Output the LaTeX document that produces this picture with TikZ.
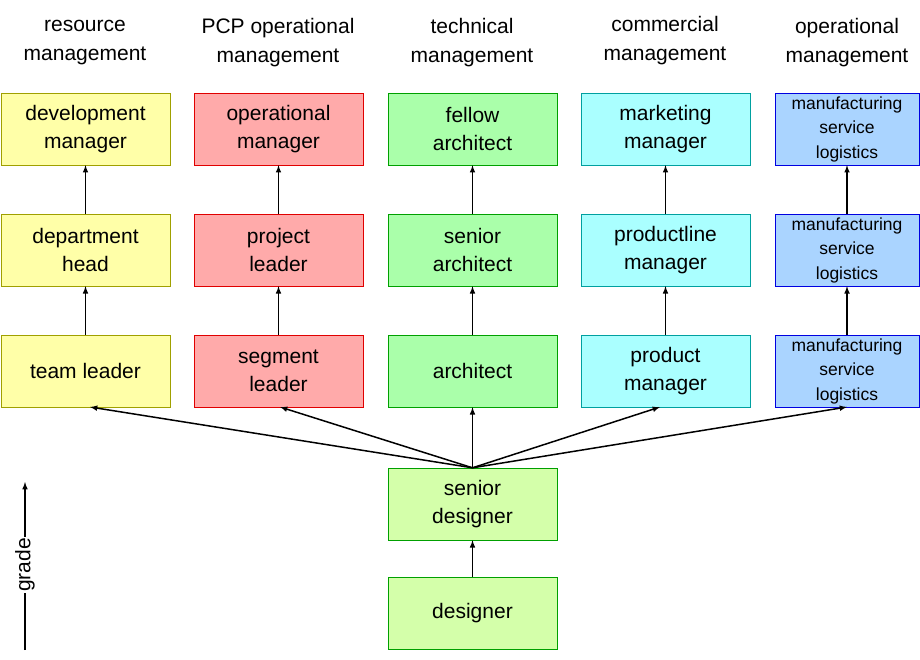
\documentclass[tikz,border=0pt]{standalone}
\usepackage{fontspec}
\setmainfont{Liberation Sans}
\begin{document}
\begin{tikzpicture}[x=1pt,y=-1pt,
 box/.style={draw,minimum width=169pt,minimum height=72pt,align=center,font=\fontsize{21}{28}\selectfont,inner sep=0pt},
 sbox/.style={box,minimum width=144pt,font=\fontsize{17.5}{24.5}\selectfont},
 hd/.style={align=center,font=\fontsize{21}{29}\selectfont},
 ar/.style={-latex,line width=1.5pt},
 Y/.style={fill=yellow1,draw=yellowd}, R/.style={fill=red1,draw=redd},
 G/.style={fill=green1,draw=greend}, C/.style={fill=cyan1,draw=cyand},
 B/.style={fill=blue1,draw=blued}, L/.style={fill=lg1,draw=greend}]
\definecolor{yellow1}{HTML}{FFFFA8}\definecolor{yellowd}{HTML}{A0A000}
\definecolor{red1}{HTML}{FFAAAA}\definecolor{redd}{HTML}{E00000}
\definecolor{green1}{HTML}{AAFFAA}\definecolor{greend}{HTML}{00A000}
\definecolor{cyan1}{HTML}{AAFFFF}\definecolor{cyand}{HTML}{00A0A0}
\definecolor{blue1}{HTML}{AAD4FF}\definecolor{blued}{HTML}{0000E0}
\definecolor{lg1}{HTML}{D4FFAA}
\useasboundingbox (0,0) rectangle (920,660);
\node[hd] (h1) at (85,43) {resource\\management};
\node[hd] (h2) at (278,43) {PCP operational\\management};
\node[hd] (h3) at (472,43) {technical\\management};
\node[hd] (h4) at (665,41) {commercial\\management};
\node[hd] (h5) at (847,43) {operational\\management};
\node[box,Y] (a1) at (85.5,129) {development\\manager};
\node[box,Y] (a2) at (85.5,250) {department\\head};
\node[box,Y] (a3) at (85.5,371) {team leader};
\node[box,R] (b1) at (278.5,129) {operational\\manager};
\node[box,R] (b2) at (278.5,250) {project\\leader};
\node[box,R] (b3) at (278.5,371) {segment\\leader};
\node[box,G] (c1) at (472.5,129) {fellow\\architect};
\node[box,G] (c2) at (472.5,250) {senior\\architect};
\node[box,G] (c3) at (472.5,371) {architect};
\node[box,C] (d1) at (665.5,129) {marketing\\manager};
\node[box,C] (d2) at (665.5,250) {productline\\manager};
\node[box,C] (d3) at (665.5,371) {product\\manager};
\node[sbox,B] (e1) at (847,129) {manufacturing\\service\\logistics};
\node[sbox,B] (e2) at (847,250) {manufacturing\\service\\logistics};
\node[sbox,B] (e3) at (847,371) {manufacturing\\service\\logistics};
\node[box,L] (sd) at (472.5,504) {senior\\designer};
\node[box,L] (de) at (472.5,613) {designer};
\foreach \c in {a,b,c,d,e}{
 \draw[ar] (\c3) -- (\c2); \draw[ar] (\c2) -- (\c1);}
\draw[ar] (de) -- (sd);
\draw[ar] (sd.north) -- (90,407);
\draw[ar] (sd.north) -- (280,407);
\draw[ar] (sd.north) -- (c3.south);
\draw[ar] (sd.north) -- (660,407);
\draw[ar] (sd.north) -- (847,407);
\coordinate (g0) at (25,650); \coordinate (g1) at (25,482);
\draw[ar] (g0) -- (g1);
\node[fill=white,rotate=90,font=\fontsize{21}{25}\selectfont,inner sep=1pt] (gr) at (25,565) {grade};
\end{tikzpicture}
\end{document}
